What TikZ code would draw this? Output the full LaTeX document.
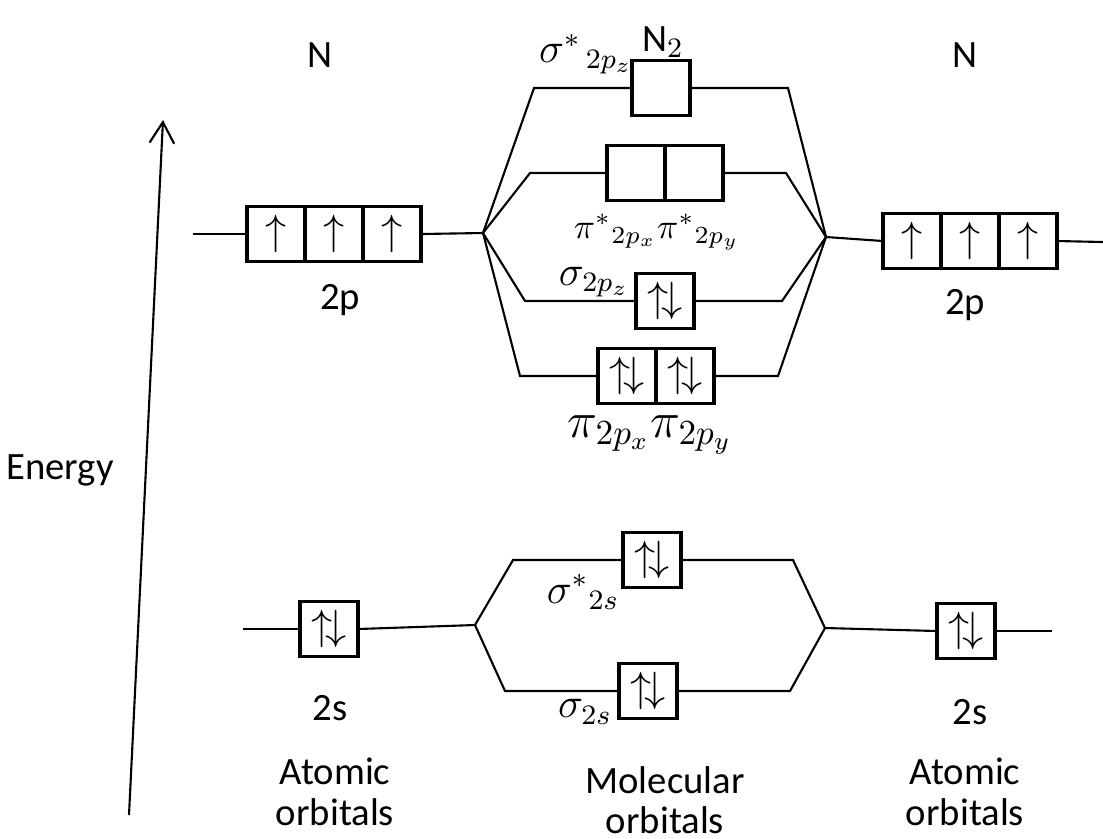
\documentclass[tikz,border=0pt]{standalone}
\usepackage{fontspec}
\setmainfont{Carlito}
\usetikzlibrary{positioning,arrows.meta}

\begin{document}
\begin{tikzpicture}[
    x=0.01cm, y=-0.01cm,
    cell/.style={draw, line width=1.1pt, minimum width=0.58cm, minimum height=0.55cm, inner sep=0pt, outer sep=0pt, font=\large},
    lvl/.style={line width=0.6pt},
    lbl/.style={font=\fontsize{11}{11.5}\selectfont, align=center},
    mo/.style={font=\fontsize{12}{14}\selectfont, inner sep=1pt},
    >={Straight Barb[length=6pt,width=7pt]}
  ]
    \useasboundingbox (0,0) rectangle (1103,838);

    % energy axis
    \coordinate (eB) at (129,815);
    \coordinate (eT) at (163,120);
    \draw[->, line width=0.6pt] (eB) -- (eT);
    \node[lbl] (energy) at (60,470) {Energy};

    % titles
    \node[lbl] (nL) at (320,55) {N};
    \node[lbl] (nR) at (965,55) {N};
    \node[lbl] (n2) at (663,42) {N$_2$};

    % atomic 2p, left and right
    \node[cell] (lp1) at (276,234) {$\uparrow$};
    \node[cell, right=0pt of lp1] (lp2) {$\uparrow$};
    \node[cell, right=0pt of lp2] (lp3) {$\uparrow$};
    \node[lbl] (lp) at (340,300) {2p};
    \node[cell] (rp1) at (912,241) {$\uparrow$};
    \node[cell, right=0pt of rp1] (rp2) {$\uparrow$};
    \node[cell, right=0pt of rp2] (rp3) {$\uparrow$};
    \node[lbl] (rp) at (965,305) {2p};

    % atomic 2s, left and right
    \node[cell] (ls) at (329,629) {$\uparrow\!\downarrow$};
    \node[lbl] (lsl) at (330,708) {2s};
    \node[cell] (rs) at (966,631) {$\uparrow\!\downarrow$};
    \node[lbl] (rsl) at (970,712) {2s};

    % molecular orbitals
    \node[cell] (sp) at (661,88) {};
    \node[cell] (pa1) at (636,173) {};
    \node[cell, right=0pt of pa1] (pa2) {};
    \node[cell] (sb) at (665,301) {$\uparrow\!\downarrow$};
    \node[cell] (pb1) at (627,376) {$\uparrow\!\downarrow$};
    \node[cell, right=0pt of pb1] (pb2) {$\uparrow\!\downarrow$};
    \node[cell] (ss) at (652,560) {$\uparrow\!\downarrow$};
    \node[cell] (sg) at (648,691) {$\uparrow\!\downarrow$};

    % MO labels
    \node[mo] (spl) at (586,54) {$\sigma^{*}{}_{\,2p_z}$};
    \node[mo, font=\fontsize{10}{12}\selectfont] (pal) at (657,232) {$\pi^{*}{}_{2p_x}\pi^{*}{}_{2p_y}$};
    \node[mo] (sbl) at (594,282) {$\sigma_{2p_z}$};
    \node[mo, font=\fontsize{14}{16}\selectfont] (pbl) at (650,435) {$\pi_{2p_x}\pi_{2p_y}$};
    \node[mo] (ssl) at (583,592) {$\sigma^{*}{}_{2s}$};
    \node[mo] (sgl) at (585,712) {$\sigma_{2s}$};

    % bottom captions
    \node[lbl] (aoL) at (335,792) {Atomic\\orbitals};
    \node[lbl] (mol) at (665,800) {Molecular\\orbitals};
    \node[lbl] (aoR) at (965,792) {Atomic\\orbitals};

    % junctions and corners
    \coordinate (pL0) at (193,234);
    \coordinate (pR0) at (1103,242);
    \coordinate (jpL) at (483,233);
    \coordinate (jpR) at (826,237);
    \coordinate (sL0) at (243,629);
    \coordinate (sR0) at (1052,631);
    \coordinate (jsL) at (475,625);
    \coordinate (jsR) at (825,628);
    \coordinate (aL) at (534,88);   \coordinate (aR) at (788,88);
    \coordinate (bL) at (530,173);  \coordinate (bR) at (786,173);
    \coordinate (cL) at (525,301);  \coordinate (cR) at (782,301);
    \coordinate (dL) at (520,376);  \coordinate (dR) at (778,376);
    \coordinate (fL) at (513,560);  \coordinate (fR) at (793,560);
    \coordinate (gL) at (505,691);  \coordinate (gR) at (790,691);

    % connectors
    \draw[lvl] (pL0) -- (lp1.west);
    \draw[lvl] (lp3.east) -- (jpL);
    \draw[lvl] (jpR) -- (rp1.west);
    \draw[lvl] (rp3.east) -- (pR0);
    \draw[lvl] (jpL) -- (aL) -- (sp.west);
    \draw[lvl] (sp.east) -- (aR) -- (jpR);
    \draw[lvl] (jpL) -- (bL) -- (pa1.west);
    \draw[lvl] (pa2.east) -- (bR) -- (jpR);
    \draw[lvl] (jpL) -- (cL) -- (sb.west);
    \draw[lvl] (sb.east) -- (cR) -- (jpR);
    \draw[lvl] (jpL) -- (dL) -- (pb1.west);
    \draw[lvl] (pb2.east) -- (dR) -- (jpR);
    \draw[lvl] (sL0) -- (ls.west);
    \draw[lvl] (ls.east) -- (jsL);
    \draw[lvl] (jsR) -- (rs.west);
    \draw[lvl] (rs.east) -- (sR0);
    \draw[lvl] (jsL) -- (fL) -- (ss.west);
    \draw[lvl] (ss.east) -- (fR) -- (jsR);
    \draw[lvl] (jsL) -- (gL) -- (sg.west);
    \draw[lvl] (sg.east) -- (gR) -- (jsR);
\end{tikzpicture}
\end{document}
